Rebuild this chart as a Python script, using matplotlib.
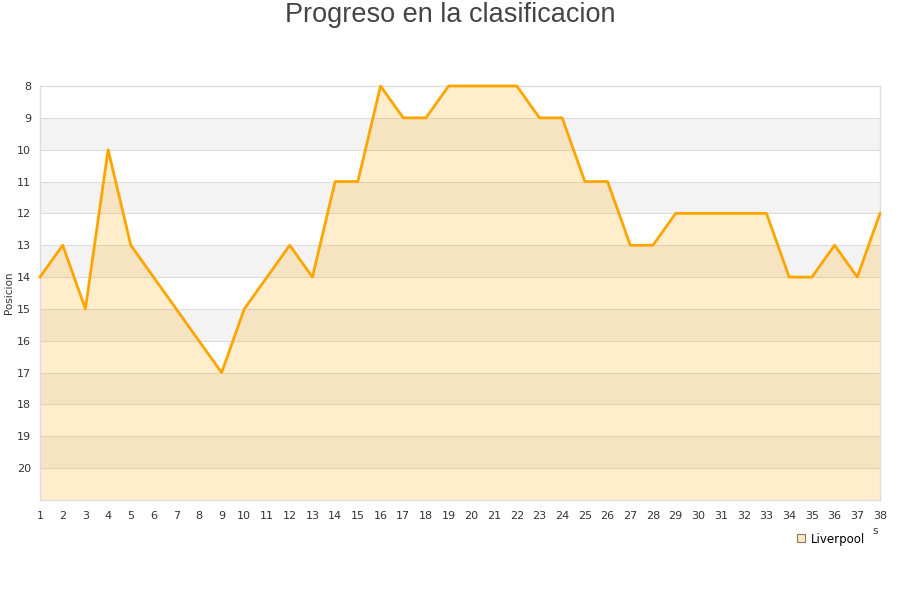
import matplotlib
matplotlib.use("Agg")
import matplotlib.pyplot as plt
from matplotlib.lines import Line2D
import numpy as np

# Datos
jornadas = list(range(1, 39))
posicion = [14, 13, 15, 10, 13, 14, 15, 16, 17, 15,
            14, 13, 14, 11, 11, 8, 9, 9, 8, 8,
            8, 8, 9, 9, 11, 11, 13, 13, 12, 12,
            12, 12, 12, 14, 14, 13, 14, 12]
equipo = "Liverpool"
titulo = "Progreso en la clasificacion"
y_ticks = list(range(8, 21))

naranja = "#ffa500"

fig = plt.figure(figsize=(9, 6), dpi=100)
ax = fig.add_axes([40/900, 100/600, 840/900, 414/600])

# bandas alternas
for k in range(8, 21):
    if k % 2 == 1:
        ax.axhspan(k, k + 1, color="#f3f3f3", zorder=0, lw=0)
for k in range(9, 21):
    ax.axhline(k, color="#dddddd", lw=0.8, zorder=1)

ax.fill_between(jornadas, posicion, 21, color=naranja, alpha=0.2, lw=0, zorder=2)
ax.plot(jornadas, posicion, color=naranja, lw=2, zorder=3, clip_on=False)

ax.set_xlim(1, 38)
ax.set_ylim(21, 8)
ax.set_yticks(y_ticks)
ax.set_xticks(jornadas)
ax.tick_params(axis="both", length=0, labelsize=8, colors="#333333")
ax.tick_params(axis="y", pad=6.5)
ax.tick_params(axis="x", pad=8)
for s in ax.spines.values():
    s.set_color("#dddddd")
    s.set_linewidth(1)

ax.set_ylabel("Posicion", fontsize=7.5, color="#333333", labelpad=2)
ax.yaxis.set_label_coords(-0.031, 0.5)

fig.text(0.5, 1 - 15/600, titulo, ha="center", va="center", fontsize=19.5,
         color="#444444", family="Liberation Sans")
fig.text(875/900, 1 - 531/600, "s", ha="center", va="center", fontsize=7.5, color="#333333")

handle = Line2D([], [], marker="s", ls="none", markersize=6,
                markerfacecolor="#fde9c8", markeredgecolor="#8a7a60", markeredgewidth=0.8)
fig.legend([handle], [equipo], loc="center", bbox_to_anchor=(830/900, 1 - 539/600),
           frameon=False, fontsize=8.5, handletextpad=0.4, handlelength=1)

fig.savefig("out.png", dpi=100)
